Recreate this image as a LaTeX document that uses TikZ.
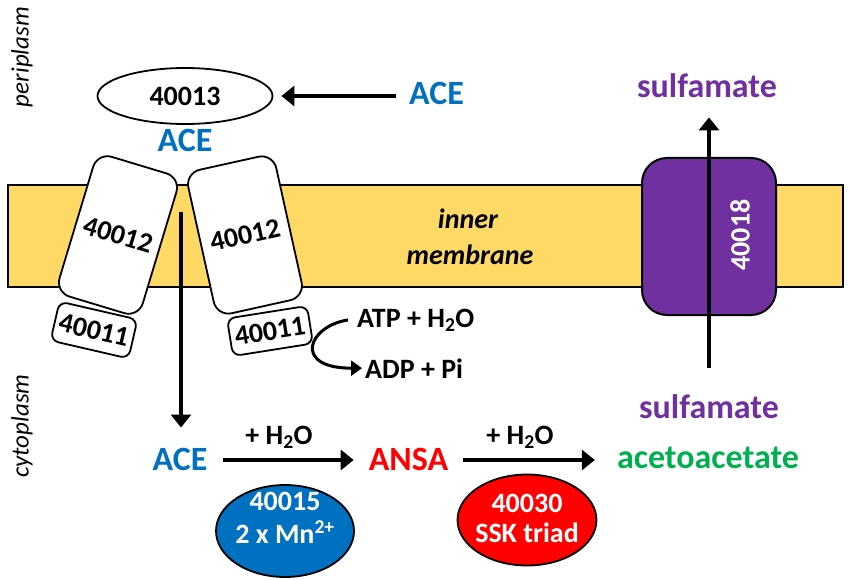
\documentclass[tikz,border=0pt]{standalone}
\usepackage{fontspec}
\setmainfont{Carlito}
\usetikzlibrary{arrows.meta,shapes.geometric}
\definecolor{aceblue}{HTML}{0070C0}
\definecolor{ansared}{HTML}{FF0000}
\definecolor{acgreen}{HTML}{00B050}
\definecolor{sulpurple}{HTML}{7030A0}
\definecolor{membyellow}{HTML}{FFD966}
\begin{document}
\begin{tikzpicture}[x=1pt,y=-1pt,
  big/.style={font=\fontsize{34}{40}\selectfont\bfseries, inner sep=0pt, anchor=base},
  small/.style={font=\fontsize{28}{33}\selectfont\bfseries, inner sep=0pt},
  side/.style={font=\fontsize{25}{30}\selectfont\itshape, inner sep=0pt, rotate=90},
  arr/.style={line width=4pt, -{Triangle[length=13pt,width=20pt]}},
  prot/.style={draw, line width=1.8pt, fill=white, small},
  enz/.style={ellipse, draw, line width=1.8pt, inner sep=0pt}
]
\useasboundingbox (0,0) rectangle (851,580);

% membrane
\draw[line width=1.5pt, fill=membyellow] (8,185) rectangle (843,287);
\node[small, font=\fontsize{28}{33}\selectfont\bfseries\itshape, anchor=base] (inner) at (468,229) {inner};
\node[small, font=\fontsize{28}{33}\selectfont\bfseries\itshape, anchor=base] (memb) at (470,264) {membrane};

% compartment labels
\node[side] (peri) at (22,57) {periplasm};
\node[side] (cyto) at (22,426) {cytoplasm};

% 40013 and ACE
\node[enz, fill=white, minimum width=175pt, minimum height=56pt, small] (E13) at (185,96) {40013};
\node[big, text=aceblue] (aceT) at (436.5,105) {ACE};
\node[big, text=aceblue] (aceM) at (185,152) {ACE};
\draw[arr, shorten <=13pt, shorten >=8pt] (E13.east -| aceT.west) -- (E13.east);

% ABC transporter
\node[prot, rounded corners=8pt, minimum width=80pt, minimum height=40pt, rotate=-13] (L11) at (94,330) {40011};
\node[prot, rounded corners=8pt, minimum width=81pt, minimum height=38pt, rotate=9] (R11) at (270,331) {40011};
\node[prot, rounded corners=15pt, minimum width=87pt, minimum height=146pt, rotate=-16.8] (L12) at (118,235) {40012};
\node[prot, rounded corners=15pt, minimum width=90pt, minimum height=147pt, rotate=12.5] (R12) at (245,235) {40012};

% ATP hydrolysis
\node[small, anchor=base west] (atp) at (357,327) {ATP + H\textsubscript{2}O};
\node[small, anchor=base west] (adp) at (365,378) {ADP + Pi};
\draw[line width=3pt, -{Triangle[length=11pt,width=15pt]}] ([xshift=-9pt]atp.west) .. controls +(-40,6) and +(-70,0) .. ([xshift=-3pt]adp.west);

% ACE import arrow
\node[big, text=aceblue] (aceB) at (180,470) {ACE};
\coordinate (chan) at (181,212);
\draw[arr, shorten >=20pt] (chan) -- (chan |- aceB.north);

% sulfamate transporter
\node[draw, line width=2pt, fill=sulpurple, rounded corners=25pt, minimum width=134pt, minimum height=157pt] (T18) at (709,236.5) {};
\node[small, text=white, rotate=90] (t18) at (740,235) {40018};
\node[big, text=sulpurple] (sT) at (707,98) {sulfamate};
\node[big, text=sulpurple] (sB) at (709,418) {sulfamate};
\draw[arr, shorten <=26pt, shorten >=19pt] (T18.center |- sB.north) -- (T18.center |- sT.south);

% hydrolysis pathway
\node[big, text=ansared] (ansa) at (408.5,470) {ANSA};
\node[big, text=acgreen] (acac) at (708,468) {acetoacetate};
\coordinate (rowy) at (0,460);
\draw[arr, shorten <=15pt, shorten >=15pt] (aceB.east |- rowy) -- (ansa.west |- rowy);
\draw[arr, shorten <=15pt, shorten >=22pt] (ansa.east |- rowy) -- (acac.west |- rowy);
\node[small, anchor=base] (w1) at (279,444) {+ H\textsubscript{2}O};
\node[small, anchor=base] (w2) at (520,444) {+ H\textsubscript{2}O};

% enzymes
\node[enz, fill=aceblue, minimum width=138pt, minimum height=92pt] (E15) at (285,531) {};
\node[small, text=white, anchor=base] (e15a) at (285,510) {40015};
\node[small, text=white, anchor=base] (e15b) at (285,543) {2 x Mn\textsuperscript{2+}};
\node[enz, fill=ansared, minimum width=139pt, minimum height=91pt] (E30) at (527,520) {};
\node[small, text=white, anchor=base] (e30a) at (527,512) {40030};
\node[small, text=white, anchor=base] (e30b) at (527,542) {SSK triad};
\end{tikzpicture}
\end{document}
